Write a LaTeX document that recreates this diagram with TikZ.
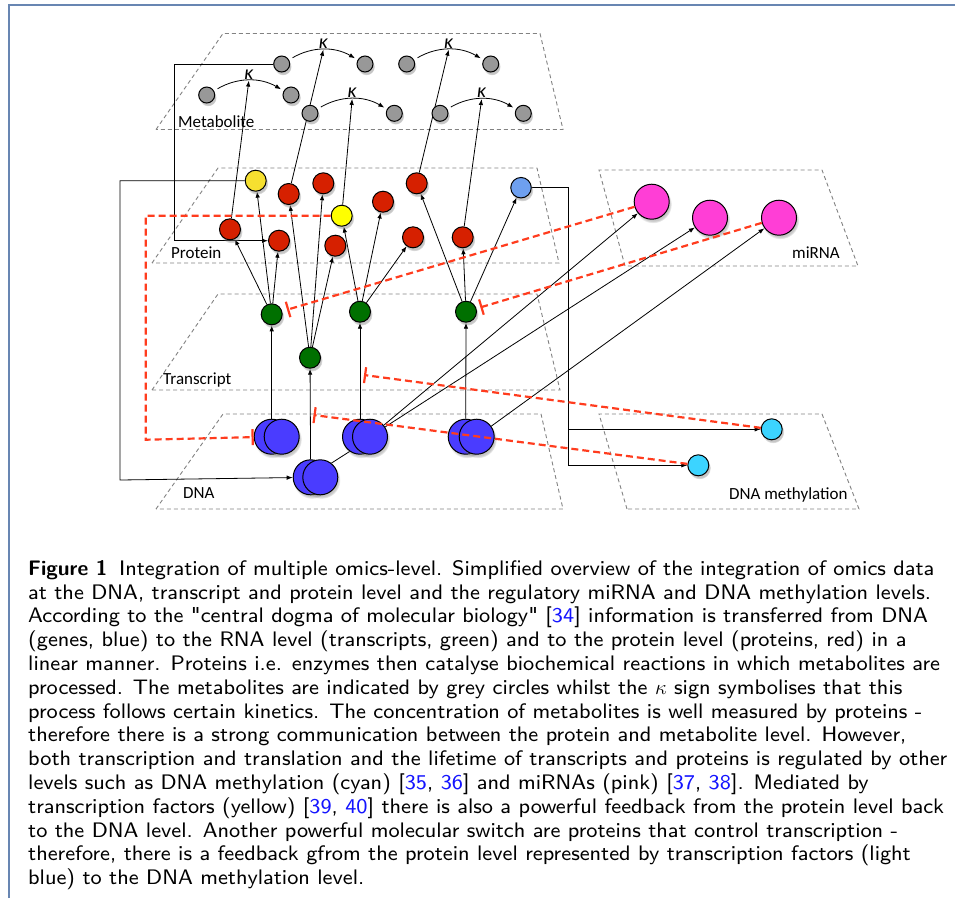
\documentclass[tikz,border=0pt]{standalone}
\usepackage{fontspec}
\newfontfamily\labfont{Carlito}
\newfontfamily\capfont{lmsans8-regular.otf}[BoldFont=lmsans10-bold.otf]
\usetikzlibrary{arrows.meta,shadows,fadings}

\definecolor{framec}{RGB}{104,134,178}
\definecolor{planec}{RGB}{130,130,130}
\definecolor{metgray}{RGB}{152,152,152}
\definecolor{protred}{RGB}{214,32,0}
\definecolor{tfyel}{RGB}{246,224,48}
\definecolor{tfyelb}{RGB}{255,255,0}
\definecolor{ltblue}{RGB}{110,160,240}
\definecolor{trgreen}{RGB}{0,112,0}
\definecolor{dnablue}{RGB}{74,60,255}
\definecolor{mirpink}{RGB}{255,62,214}
\definecolor{methcyan}{RGB}{60,212,255}
\definecolor{inhred}{RGB}{255,60,30}
\definecolor{citeblue}{RGB}{20,20,255}

\pgfdeclarelayer{planes}
\pgfdeclarelayer{edges}
\pgfsetlayers{planes,edges,main}

\tikzset{
  level/.style={draw=planec, line width=0.9pt, dash pattern=on 4pt off 3pt},
  levlab/.style={anchor=base west, inner sep=0pt, font=\labfont\fontsize{17}{20}\selectfont},
  mol/.style={draw, circle, line width=1pt, inner sep=0pt,
    circular drop shadow={shadow xshift=1.2pt, shadow yshift=-2.5pt, shadow scale=1.08, opacity=0.45}},
  met/.style={mol, fill=metgray, minimum size=16pt},
  prot/.style={mol, fill=protred, minimum size=21pt},
  trans/.style={mol, fill=trgreen, minimum size=21pt},
  gene/.style={mol, fill=dnablue, minimum size=35pt},
  mir/.style={mol, fill=mirpink, minimum size=35pt},
  meth/.style={mol, fill=methcyan, minimum size=21pt},
  conn/.style={draw, line width=0.8pt, -{Latex[length=6pt,width=4.5pt]}},
  plain/.style={draw, line width=0.8pt},
  kin/.style={conn, shorten <=4pt, shorten >=3pt},
  kap/.style={above, inner sep=1pt, font=\labfont\itshape\fontsize{20}{20}\selectfont},
  inh/.style={draw=inhred, line width=2.2pt, dash pattern=on 7pt off 4pt,
    -{Bar[width=16pt,line width=2.2pt]}},
}

\begin{document}
\begin{tikzpicture}[x=1pt,y=-1pt]
\useasboundingbox (0,0) rectangle (955,898);
% frame
\draw[framec, line width=2pt] (9,898) -- (9,5) -- (955,5);

% levels
\begin{pgfonlayer}{planes}
\draw[level] (156,129.5) -- (223,33.5) -- (540,33.5) -- (563,129.5) -- cycle;
\draw[level] (152,263) -- (218,168) -- (537,168) -- (559,263) -- cycle;
\draw[level] (152,390) -- (218,294) -- (537,294) -- (560,390) -- cycle;
\draw[level] (156,509) -- (223,414) -- (541,414) -- (563,509) -- cycle;
\draw[level] (625,266) -- (599,170) -- (822,170) -- (858,266) -- cycle;
\draw[level] (627,509) -- (599,414) -- (822,414) -- (859,509) -- cycle;
\end{pgfonlayer}
\node[levlab] (lmet) at (178,127.3) {Metabolite};
\node[levlab] (lpro) at (171,258.3) {Protein};
\node[levlab] (ltra) at (163,384) {Transcript};
\node[levlab] (ldna) at (183,498.3) {DNA};
\node[levlab] (lmir) at (792,258.3) {miRNA};
\node[levlab] (lmeth) at (729,499.3) {DNA methylation};

% metabolites
\node[met] (m1) at (206.7,95) {};
\node[met] (m2) at (291,95) {};
\node[met] (m3) at (281.7,64) {};
\node[met] (m4) at (365,64) {};
\node[met] (m5) at (406.7,64) {};
\node[met] (m6) at (490.7,64) {};
\node[met] (m7) at (310,113.3) {};
\node[met] (m8) at (394.3,113.3) {};
\node[met] (m9) at (440,113.3) {};
\node[met] (m10) at (523.3,113.3) {};

% proteins
\node[prot, fill=tfyel] (y1) at (255.7,180.7) {};
\node[prot] (pa) at (288.7,194) {};
\node[prot] (pb) at (323.3,183.3) {};
\node[prot, fill=tfyelb] (y2) at (341.7,215.7) {};
\node[prot] (pc) at (383,201.7) {};
\node[prot] (pd) at (416.7,183.3) {};
\node[prot] (pe) at (230,229.3) {};
\node[prot] (pf) at (279,240.7) {};
\node[prot] (pg) at (335.3,245.7) {};
\node[prot] (ph) at (413,237.3) {};
\node[prot] (pi) at (462.7,237.3) {};
\node[prot, fill=ltblue, minimum size=20.5pt] (lb) at (521,187.7) {};

% transcripts
\node[trans] (t1) at (271.7,314.3) {};
\node[trans] (t2) at (310,357.7) {};
\node[trans] (t3) at (360,311.7) {};
\node[trans] (t4) at (466,311.7) {};

% genes
\node[gene] (d1b) at (271.7,436.7) {};
\node[gene] (d1) at (281.7,436.7) {};
\node[gene] (d2b) at (310.7,477.3) {};
\node[gene] (d2) at (320.3,477.3) {};
\node[gene] (d3b) at (360,436.7) {};
\node[gene] (d3) at (370,436.7) {};
\node[gene] (d4b) at (465.7,436.7) {};
\node[gene] (d4) at (476.7,436.7) {};

% miRNA and methylation
\node[mir] (mi1) at (651.7,201.7) {};
\node[mir] (mi2) at (710,217.7) {};
\node[mir] (mi3) at (779,217.7) {};
\node[meth] (c1) at (771.7,429.3) {};
\node[meth] (c2) at (698.3,465.3) {};

\coordinate (fbY) at (120,480);
\coordinate (fbM) at (174,240.7);
\coordinate (spl) at (568.3,429.3);
\coordinate (fbR) at (145.7,439.7);
\coordinate (x3) at (364,375);
\coordinate (x4) at (313.5,415);

\begin{pgfonlayer}{edges}
% kinetics
\draw[kin] (m1) to[bend left=30] coordinate[midway] (k1) node[kap,midway] {κ} (m2);
\draw[kin] (m3) to[bend left=30] coordinate[midway] (k2) node[kap,midway] {κ} (m4);
\draw[kin] (m5) to[bend left=30] coordinate[midway] (k3) node[kap,midway] {κ} (m6);
\draw[kin] (m7) to[bend left=30] coordinate[midway] (k4) node[kap,midway] {κ} (m8);
\draw[kin] (m9) to[bend left=30] coordinate[midway] (k5) node[kap,midway] {κ} (m10);
% enzymes
\path[conn] (pe) -- (k1);
\path[conn] (pa) -- (k2);
\path[conn] (pd) -- (k3);
\path[conn] (y2) -- (k4);
\path[conn] (pi) -- (k5);
% transcription
\path[conn] (d1b) -- (t1);
\path[conn] (d2b) -- (t2);
\path[conn] (d3b) -- (t3);
\path[conn] (d4b) -- (t4);
\path[plain] (d2.52) -- (d3b.235);
% translation
\path[conn] (t1) -- (pe);
\path[conn] (t1) -- (y1);
\path[conn] (t1) -- (pf);
\path[conn] (t2) -- (pa);
\path[conn] (t2) -- (pb);
\path[conn] (t2) -- (pg);
\path[conn] (t3) -- (y2);
\path[conn] (t3) -- (pc);
\path[conn] (t3) -- (ph);
\path[conn] (t4) -- (pd);
\path[conn] (t4) -- (pi);
\path[conn] (t4) -- (lb);
% miRNA genes
\path[conn] (d3) -- (mi1);
\path[conn] (d3) -- (mi2);
\path[conn] (d4) -- (mi3);
% feedback
\path[conn] (y1) -| (fbY) -- (d2b);
\path[conn] (m3) -| (fbM) -- (pf);
\path[conn] (lb) -| (spl) -- (c1);
\path[conn] (spl) |- (c2);
\end{pgfonlayer}

% inhibition
\path[inh] (y2) -| (fbR) -- (d1b);
\path[inh, shorten >=5pt] (mi1) -- (t1);
\path[inh, shorten >=4pt] (mi3) -- (t4);
\path[inh] (c1) -- (x3);
\path[inh] (c2) -- (x4);

% caption
\node[anchor=north west, inner sep=0pt, align=left,
  font=\capfont\fontsize{21}{23.8}\selectfont] (cap) at (28,560) {%
\textbf{Figure 1}\hspace{0.55em}Integration of multiple omics-level. Simplified overview of the integration of omics data\\
at the DNA, transcript and protein level and the regulatory miRNA and DNA methylation levels.\\
According to the "central dogma of molecular biology" [\textcolor{citeblue}{34}] information is transferred from DNA\\
(genes, blue) to the RNA level (transcripts, green) and to the protein level (proteins, red) in a\\
linear manner. Proteins i.e. enzymes then catalyse biochemical reactions in which metabolites are\\
processed. The metabolites are indicated by grey circles whilst the $\kappa$ sign symbolises that this\\
process follows certain kinetics. The concentration of metabolites is well measured by proteins -\\
therefore there is a strong communication between the protein and metabolite level. However,\\
both transcription and translation and the lifetime of transcripts and proteins is regulated by other\\
levels such as DNA methylation (cyan) [\textcolor{citeblue}{35}, \textcolor{citeblue}{36}] and miRNAs (pink) [\textcolor{citeblue}{37}, \textcolor{citeblue}{38}]. Mediated by\\
transcription factors (yellow) [\textcolor{citeblue}{39}, \textcolor{citeblue}{40}] there is also a powerful feedback from the protein level back\\
to the DNA level. Another powerful molecular switch are proteins that control transcription -\\
therefore, there is a feedback gfrom the protein level represented by transcription factors (light\\
blue) to the DNA methylation level.};
\end{tikzpicture}
\end{document}
